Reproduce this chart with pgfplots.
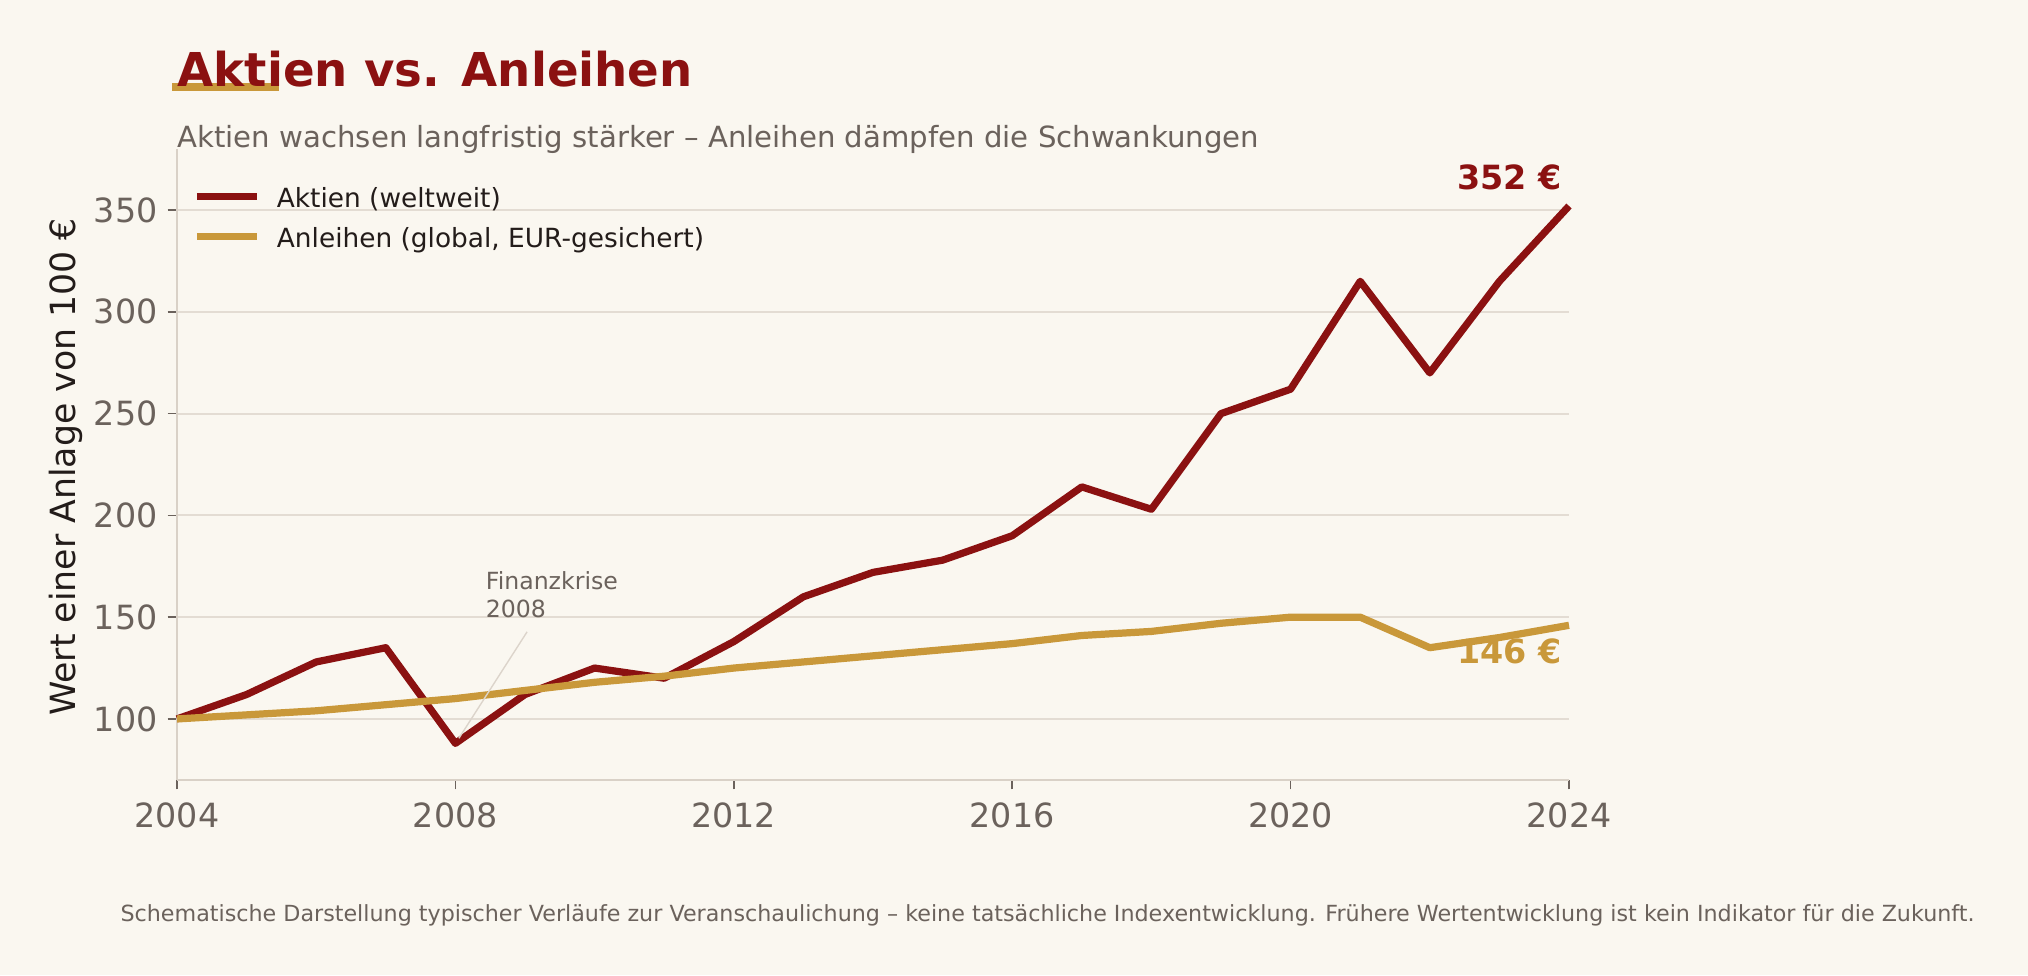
\documentclass[border=0pt]{standalone}
\usepackage{fontspec}
\setmainfont{DejaVu Sans}
\usepackage{pgfplots}
\usepackage{pgfplotstable}
\pgfplotsset{compat=1.18}
\definecolor{bg}{HTML}{FAF7F0}
\definecolor{aktien}{HTML}{8B1111}
\definecolor{anleihen}{HTML}{C9983A}
\definecolor{txtgrey}{HTML}{6B625C}
\definecolor{txtdark}{HTML}{231C1A}
\definecolor{gridc}{HTML}{E3DCD3}
\definecolor{spine}{HTML}{D9D1C7}
\definecolor{annot}{HTML}{DCD4CB}

\pgfplotstableread{
year aktien anleihen
2004 100 100
2005 112 102
2006 128 104
2007 135 107
2008 88 110
2009 112 114
2010 125 118
2011 120 121
2012 138 125
2013 160 128
2014 172 131
2015 178 134
2016 190 137
2017 214 141
2018 203 143
2019 250 147
2020 262 150
2021 315 150
2022 270 135
2023 315 140
2024 352 146
}\datatable

\begin{document}
\begin{tikzpicture}
\fill[bg] (0,0) rectangle (730.08pt,351pt);
\fill[anleihen] (61.92pt,318.24pt) rectangle (100.44pt,321.12pt);
\node[anchor=base west, inner sep=0pt, text=aktien, font=\fontsize{16.8}{20}\selectfont\bfseries] at (63.72pt,319.68pt) {Aktien vs. Anleihen};
\node[anchor=base west, inner sep=0pt, text=txtgrey, font=\fontsize{10.5}{12}\selectfont] at (63.72pt,297.72pt) {Aktien wachsen langfristig stärker – Anleihen dämpfen die Schwankungen};
\begin{axis}[
  at={(63.72pt,70.2pt)}, anchor=south west,
  scale only axis, width=501.12pt, height=227.16pt,
  xmin=2004, xmax=2024, ymin=70, ymax=380,
  axis lines*=left,
  axis line style={draw=spine, line width=0.7pt},
  xtick={2004,2008,2012,2016,2020,2024},
  ytick={100,150,200,250,300,350},
  tick align=outside,
  major tick length=3.4pt,
  tick style={draw=txtgrey, line width=0.6pt},
  ymajorgrids,
  grid style={draw=gridc, line width=0.7pt},
  /pgf/number format/assume math mode=true,
  /pgf/number format/1000 sep={},
  tick label style={font=\fontsize{12}{14}\selectfont, text=txtgrey},
  yticklabel style={inner sep=0pt, xshift=-3.4pt},
  xticklabel style={inner sep=0pt, yshift=-4.5pt},
  ylabel={Wert einer Anlage von 100 €},
  ylabel style={at={(axis description cs:-0.0726,0.496)}, anchor=base, font=\fontsize{12.5}{14}\selectfont, text=txtdark},
  clip=false,
  legend cell align=left,
  legend style={at={(axis description cs:0.0113,0.9397)}, anchor=north west, draw=none, fill=none, inner sep=0pt,
    nodes={inner sep=0pt, text height=7.2pt, text depth=2.4pt, font=\fontsize{9.5}{11}\selectfont, text=txtdark},
    row sep=4.8pt,
    /tikz/every odd column/.append style={column sep=6.0pt}},
  legend image code/.code={\draw[#1, line width=2.5pt] (0pt,1.7pt) -- (21.6pt,1.7pt);},
]
\addplot[aktien, line width=2.6pt, line join=round] table[x=year, y=aktien] {\datatable};
\addlegendentry{Aktien (weltweit)}
\addplot[anleihen, line width=2.6pt, line join=round] table[x=year, y=anleihen] {\datatable};
\addlegendentry{Anleihen (global, EUR-gesichert)}
\draw[annot, line width=0.5pt] (axis cs:2009.03,142.8) -- (axis cs:2008.05,90.5);
\node[anchor=north west, inner sep=0pt, align=left, text=txtgrey, font=\fontsize{8.5}{10}\selectfont] at (axis cs:2008.43,172.8) {Finanzkrise\\2008};
\node[anchor=base east, inner sep=0pt, text=aktien, font=\fontsize{12}{14}\selectfont\bfseries] at (axis cs:2023.9,360) {352 €};
\node[anchor=base east, inner sep=0pt, text=anleihen, font=\fontsize{12}{14}\selectfont\bfseries] at (axis cs:2023.9,127) {146 €};
\end{axis}
\node[anchor=base west, inner sep=0pt, text=txtgrey, font=\fontsize{8}{9}\selectfont] at (43.2pt,19.44pt) {Schematische Darstellung typischer Verläufe zur Veranschaulichung – keine tatsächliche Indexentwicklung. Frühere Wertentwicklung ist kein Indikator für die Zukunft.};
\end{tikzpicture}
\end{document}
